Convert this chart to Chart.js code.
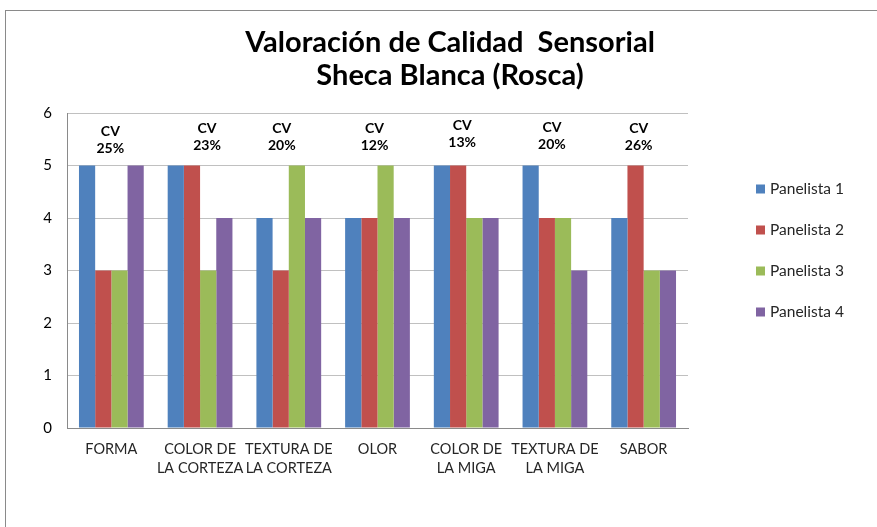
<!DOCTYPE html>
<html>
<head>
<meta charset="utf-8">
<script src="https://cdn.jsdelivr.net/npm/chart.js@4.4.1/dist/chart.umd.min.js"></script>
<style>
  html, body { margin: 0; padding: 0; background: #fff; }
  #wrap { position: relative; width: 877px; height: 527px; overflow: hidden; }
  #frame { position: absolute; left: 5px; top: 10px; width: 900px; height: 600px;
           border-left: 1px solid #8a8a8a; border-top: 1px solid #8a8a8a; }
  canvas { position: absolute; left: 0; top: 0; }
</style>
</head>
<body>
<div id="wrap">
  <div id="frame"></div>
  <canvas id="c" width="877" height="527"></canvas>
</div>
<script>
// Datos de la valoración sensorial
const categorias = [
  'FORMA',
  ['COLOR DE', 'LA CORTEZA'],
  ['TEXTURA DE', 'LA CORTEZA'],
  'OLOR',
  ['COLOR DE', 'LA MIGA'],
  ['TEXTURA DE', 'LA MIGA'],
  'SABOR'
];
const panelista1 = [5, 5, 4, 4, 5, 5, 4];
const panelista2 = [3, 5, 3, 4, 5, 4, 5];
const panelista3 = [3, 3, 5, 5, 4, 4, 3];
const panelista4 = [5, 4, 4, 4, 4, 3, 3];
const coefVar = ['25%', '23%', '20%', '12%', '13%', '20%', '26%'];
// altura (en unidades del eje) de la etiqueta "CV"
const cvNivel = [5.64, 5.70, 5.70, 5.70, 5.77, 5.73, 5.70];
const yTicks = [0, 1, 2, 3, 4, 5, 6];

const FONT = 'Lato, "Open Sans", sans-serif';

const decor = {
  id: 'decor',
  afterDraw(chart, args, opts) {
    const { ctx, scales: { x, y } } = chart;
    ctx.save();
    // título
    ctx.fillStyle = '#000';
    ctx.textAlign = 'center';
    ctx.textBaseline = 'middle';
    ctx.font = 'bold 29px ' + FONT;
    ctx.fillText('Valoración de Calidad  Sensorial', 450, 43);
    ctx.fillText('Sheca Blanca (Rosca)', 450, 76);

    // etiquetas CV
    ctx.font = 'bold 14px ' + FONT;
    coefVar.forEach((cv, i) => {
      const cx = x.getPixelForValue(i) + opts.dx[i];
      const cy = y.getPixelForValue(cvNivel[i]);
      ctx.fillText('CV', cx, cy);
      ctx.fillText(cv, cx, cy + 17);
    });

    // leyenda
    ctx.textAlign = 'left';
    ctx.font = '15.5px ' + FONT;
    chart.data.datasets.forEach((ds, i) => {
      const ly = 189 + i * 41;
      ctx.fillStyle = ds.backgroundColor;
      ctx.fillRect(756, ly - 4.5, 9, 9);
      ctx.fillStyle = '#262626';
      ctx.fillText(ds.label, 770, ly);
    });
    ctx.restore();
  }
};

new Chart(document.getElementById('c'), {
  type: 'bar',
  data: {
    labels: categorias,
    datasets: [
      { label: 'Panelista 1', data: panelista1, backgroundColor: '#4F81BD' },
      { label: 'Panelista 2', data: panelista2, backgroundColor: '#C0504D' },
      { label: 'Panelista 3', data: panelista3, backgroundColor: '#9BBB59' },
      { label: 'Panelista 4', data: panelista4, backgroundColor: '#8064A2' }
    ]
  },
  options: {
    responsive: false,
    animation: false,
    devicePixelRatio: 1,
    layout: { padding: { top: 113, right: 189, left: 0, bottom: 0 } },
    datasets: { bar: { categoryPercentage: 0.73, barPercentage: 1, borderWidth: 0 } },
    plugins: {
      legend: { display: false },
      tooltip: { enabled: false },
      decor: { dx: [-1, 7, -7, -3, -4, -3, -5] }
    },
    scales: {
      x: {
        grid: { display: false, drawTicks: false },
        border: { color: '#8a8a8a' },
        ticks: { color: '#262626', padding: 12, maxRotation: 0, autoSkip: false,
                 font: { family: FONT, size: 14.5, lineHeight: 1.3 } },
        afterFit: s => { s.height = 527 - 428; }
      },
      y: {
        min: 0, max: 6,
        afterBuildTicks: s => { s.ticks = yTicks.map(v => ({ value: v })); },
        grid: { color: '#c0c0c0', drawTicks: false },
        border: { color: '#8a8a8a' },
        ticks: { color: '#000', padding: 15, font: { family: FONT, size: 15 } },
        afterFit: s => { s.width = 67; }
      }
    }
  },
  plugins: [decor]
});
</script>
</body>
</html>
